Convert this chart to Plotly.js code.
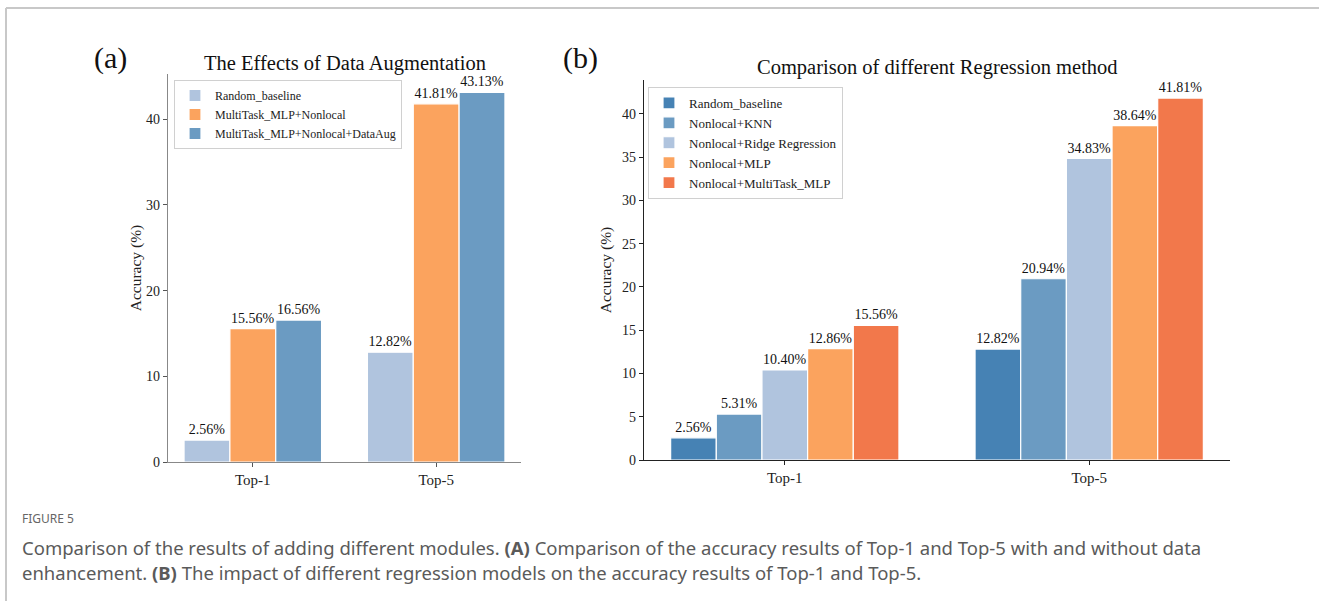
<!DOCTYPE html>
<html><head><meta charset="utf-8">
<script src="https://cdn.plot.ly/plotly-3.0.1.min.js"></script>
<style>html,body{margin:0;padding:0;background:#fff;}#chart{width:1319px;height:601px;}</style>
</head><body><div id="chart"></div>
<script>
// ---- data ----
const categories = ["Top-1", "Top-5"];
// panel (a)
const seriesA = ["Random_baseline", "MultiTask_MLP+Nonlocal", "MultiTask_MLP+Nonlocal+DataAug"];
const randomBaselineA = [2.56, 12.82];
const multiTaskNonlocalA = [15.56, 41.81];
const multiTaskDataAugA = [16.56, 43.13];
// panel (b)
const seriesB = ["Random_baseline", "Nonlocal+KNN", "Nonlocal+Ridge Regression", "Nonlocal+MLP", "Nonlocal+MultiTask_MLP"];
const randomBaselineB = [2.56, 12.82];
const nonlocalKNN = [5.31, 20.94];
const nonlocalRidge = [10.40, 34.83];
const nonlocalMLP = [12.86, 38.64];
const nonlocalMultiTask = [15.56, 41.81];
const yTicksA = [0, 10, 20, 30, 40];
const yTicksB = [0, 5, 10, 15, 20, 25, 30, 35, 40];

const colorsA = ["#b0c4de", "#fba35e", "#6b9bc2"];
const colorsB = ["#4682b4", "#6b9bc2", "#b0c4de", "#fba35e", "#f2784b"];
const serif = "Liberation Serif, Times New Roman, serif";

function barTrace(name, y, color, xa, ya, leg) {
  return {
    type: "bar", name: name, x: categories, y: y, xaxis: xa, yaxis: ya, legend: leg,
    marker: {color: color, line: {color: "#ffffff", width: 1.2}},
    texttemplate: "%{y:.2f}%", textposition: "outside", constraintext: "none",
    textfont: {family: serif, size: 14, color: "#111"}, cliponaxis: false,
    hoverinfo: "x+y+name"
  };
}

const valsA = [randomBaselineA, multiTaskNonlocalA, multiTaskDataAugA];
const valsB = [randomBaselineB, nonlocalKNN, nonlocalRidge, nonlocalMLP, nonlocalMultiTask];
const data = [];
seriesA.forEach((n, i) => data.push(barTrace(n, valsA[i], colorsA[i], "x", "y", "legend")));
seriesB.forEach((n, i) => data.push(barTrace(n, valsB[i], colorsB[i], "x2", "y2", "legend2")));

const W = 1319, H = 601;
const px = v => v / W, py = v => 1 - v / H;

const axisFont = {family: serif, size: 14, color: "#222"};
const layout = {
  width: W, height: H, margin: {l: 0, r: 0, t: 0, b: 0},
  paper_bgcolor: "#fff", plot_bgcolor: "#fff",
  barmode: "group", bargap: 0.25, bargroupgap: 0,
  font: {family: serif, color: "#222"},
  xaxis: {domain: [px(168), px(521)], anchor: "y", type: "category", range: [-0.4625, 1.4625],
    showline: true, linecolor: "#888", linewidth: 1.2, ticks: "outside", ticklen: 4, tickcolor: "#555",
    tickfont: {family: serif, size: 15, color: "#222"}, showgrid: false, zeroline: false},
  yaxis: {domain: [py(462), py(74)], anchor: "x", range: [0, 45.2865], tickvals: yTicksA,
    showline: true, linecolor: "#888", linewidth: 1.2, ticks: "outside", ticklen: 4, tickcolor: "#555",
    tickfont: axisFont, showgrid: false, zeroline: false,
    title: {text: "Accuracy (%)", font: {family: serif, size: 15.5, color: "#222"}, standoff: 0}},
  xaxis2: {domain: [px(644), px(1230)], anchor: "y2", type: "category", range: [-0.4625, 1.4625],
    showline: true, linecolor: "#222", linewidth: 1.2, ticks: "outside", ticklen: 4, tickcolor: "#222",
    tickfont: {family: serif, size: 15, color: "#222"}, showgrid: false, zeroline: false},
  yaxis2: {domain: [py(460), py(80)], anchor: "x2", range: [0, 43.9005], tickvals: yTicksB,
    showline: true, linecolor: "#222", linewidth: 1.2, ticks: "outside", ticklen: 4, tickcolor: "#222",
    tickfont: axisFont, showgrid: false, zeroline: false,
    title: {text: "Accuracy (%)", font: {family: serif, size: 15.5, color: "#222"}, standoff: 6}},
  showlegend: true,
  legend: {x: px(174), y: py(80), xanchor: "left", yanchor: "top", bgcolor: "rgba(255,255,255,0.85)",
    bordercolor: "#d0d0d0", borderwidth: 1, font: {family: serif, size: 12, color: "#222"},
    tracegroupgap: 0, itemwidth: 30},
  legend2: {x: px(648), y: py(87), xanchor: "left", yanchor: "top", bgcolor: "rgba(255,255,255,0.85)",
    bordercolor: "#d0d0d0", borderwidth: 1, font: {family: serif, size: 13, color: "#222"},
    tracegroupgap: 0, itemwidth: 30},
  shapes: [
    {type: "line", xref: "paper", yref: "paper", x0: px(6), x1: 1, y0: py(8), y1: py(8), line: {color: "#c8c8c8", width: 2}},
    {type: "line", xref: "paper", yref: "paper", x0: px(6), x1: px(6), y0: py(8), y1: 0, line: {color: "#c8c8c8", width: 2}}
  ],
  annotations: [
    {text: "(a)", xref: "paper", yref: "paper", x: px(110), y: py(58), xanchor: "center", yanchor: "middle",
      showarrow: false, font: {family: serif, size: 30, color: "#111"}},
    {text: "The Effects of Data Augmentation", xref: "paper", yref: "paper", x: px(345), y: py(63), xanchor: "center", yanchor: "middle",
      showarrow: false, font: {family: serif, size: 20.5, color: "#111"}},
    {text: "(b)", xref: "paper", yref: "paper", x: px(580), y: py(58), xanchor: "center", yanchor: "middle",
      showarrow: false, font: {family: serif, size: 30, color: "#111"}},
    {text: "Comparison of different Regression method", xref: "paper", yref: "paper", x: px(937), y: py(67), xanchor: "center", yanchor: "middle",
      showarrow: false, font: {family: serif, size: 20.5, color: "#111"}},
    {text: "FIGURE 5", xref: "paper", yref: "paper", x: px(20), y: py(518), xanchor: "left", yanchor: "middle",
      showarrow: false, font: {family: "Noto Sans, sans-serif", size: 12, color: "#666"}},
    {text: "Comparison of the results of adding different modules. <b>(A)</b> Comparison of the accuracy results of Top-1 and Top-5 with and without data",
      xref: "paper", yref: "paper", x: px(20), y: py(547), xanchor: "left", yanchor: "middle",
      showarrow: false, font: {family: "Noto Sans, sans-serif", size: 18.5, color: "#5a5a5a"}},
    {text: "enhancement. <b>(B)</b> The impact of different regression models on the accuracy results of Top-1 and Top-5.",
      xref: "paper", yref: "paper", x: px(20), y: py(572), xanchor: "left", yanchor: "middle",
      showarrow: false, font: {family: "Noto Sans, sans-serif", size: 18.5, color: "#5a5a5a"}}
  ]
};

Plotly.newPlot("chart", data, layout, {displayModeBar: false, staticPlot: true});
</script></body></html>
